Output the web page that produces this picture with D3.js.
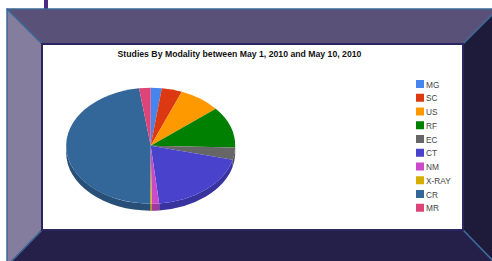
<!DOCTYPE html>
<html>
<head>
<meta charset="utf-8">
<script src="https://cdn.jsdelivr.net/npm/d3@7"></script>
<style>
  body { margin: 0; background: #fff; }
  svg { display: block; }
</style>
</head>
<body>
<div id="chart"></div>
<script>
// data
const modalities = ["MG", "SC", "US", "RF", "EC", "CT", "NM", "X-RAY", "CR", "MR"];
const studies = [21, 39, 80, 115, 34, 195, 14, 3, 477, 22];
const sliceColors = ["#4684ee", "#dc3912", "#ff9900", "#008000", "#666666",
                     "#4942cc", "#cb4ac9", "#d6ae00", "#336699", "#dd4477"];
const title = "Studies By Modality between May 1, 2010 and May 10, 2010";

const width = 492, height = 261;
const svg = d3.select("#chart").append("svg")
  .attr("width", width)
  .attr("height", height);

// --- picture frame ---
const ox0 = 7, oy0 = 9, ox1 = 498, oy1 = 266;
const ix0 = 42, iy0 = 44, ix1 = 463, iy1 = 230;

svg.append("rect").attr("x", 44).attr("y", 0).attr("width", 4).attr("height", 10)
  .attr("fill", "#4b2a80");

const bevel = [
  { pts: [[ox0, oy0], [ox1, oy0], [ix1, iy0], [ix0, iy0]], fill: "#5a5179" },
  { pts: [[ox0, oy0], [ix0, iy0], [ix0, iy1], [ox0, oy1]], fill: "#857d9d" },
  { pts: [[ox1, oy0], [ox1, oy1], [ix1, iy1], [ix1, iy0]], fill: "#1e1a39" },
  { pts: [[ox0, oy1], [ix0, iy1], [ix1, iy1], [ox1, oy1]], fill: "#25204a" }
];
svg.selectAll("path.bevel")
  .data(bevel)
  .join("path")
  .attr("class", "bevel")
  .attr("d", d => "M" + d.pts.join("L") + "Z")
  .attr("fill", d => d.fill)
  .attr("stroke", "#3d6797")
  .attr("stroke-width", 1.5)
  .attr("stroke-linejoin", "round");

svg.append("rect")
  .attr("x", ix0).attr("y", iy0)
  .attr("width", ix1 - ix0).attr("height", iy1 - iy0)
  .attr("fill", "#fff")
  .attr("stroke", "#2b2560")
  .attr("stroke-width", 2);

svg.append("text")
  .attr("x", 239.5).attr("y", 57)
  .attr("text-anchor", "middle")
  .attr("font-family", "Liberation Sans, Arial, sans-serif")
  .attr("font-weight", "bold")
  .attr("font-size", 8.7)
  .attr("fill", "#111")
  .text(title);

// --- 3D pie ---
const cx = 150.7, cy = 145.7, rx = 84.5, ry = 58, depth = 7;
const color = d3.scaleOrdinal().domain(modalities).range(sliceColors);
const pie = d3.pie().sort(null).value(d => d.v);
const slices = pie(modalities.map((m, i) => ({ m, v: studies[i] })));

const pt = (a, dy) => [cx + rx * Math.sin(a), cy - ry * Math.cos(a) + dy];

// side walls for the front half
const side = svg.append("g");
slices.forEach(s => {
  const a = Math.max(s.startAngle, Math.PI / 2);
  const b = Math.min(s.endAngle, 3 * Math.PI / 2);
  if (b <= a) return;
  const p0 = pt(a, 0), p1 = pt(b, 0), p2 = pt(b, depth), p3 = pt(a, depth);
  const d = `M${p0}A${rx},${ry} 0 0 1 ${p1}L${p2}A${rx},${ry} 0 0 0 ${p3}Z`;
  side.append("path")
    .attr("d", d)
    .attr("fill", d3.color(color(s.data.m)).darker(0.7));
});

const arc = d3.arc().innerRadius(0).outerRadius(rx);
svg.append("g")
  .attr("transform", `translate(${cx},${cy}) scale(1,${ry / rx})`)
  .selectAll("path")
  .data(slices)
  .join("path")
  .attr("d", arc)
  .attr("fill", d => color(d.data.m));

// --- legend ---
const legend = svg.append("g").attr("transform", "translate(416,80)");
const row = legend.selectAll("g")
  .data(modalities)
  .join("g")
  .attr("transform", (d, i) => `translate(0,${i * 13.75})`);
row.append("rect")
  .attr("width", 8).attr("height", 8)
  .attr("fill", d => color(d));
row.append("text")
  .attr("x", 10).attr("y", 7.5)
  .attr("font-family", "Liberation Sans, Arial, sans-serif")
  .attr("font-size", 8.3)
  .attr("fill", "#444")
  .text(d => d);
</script>
</body>
</html>
